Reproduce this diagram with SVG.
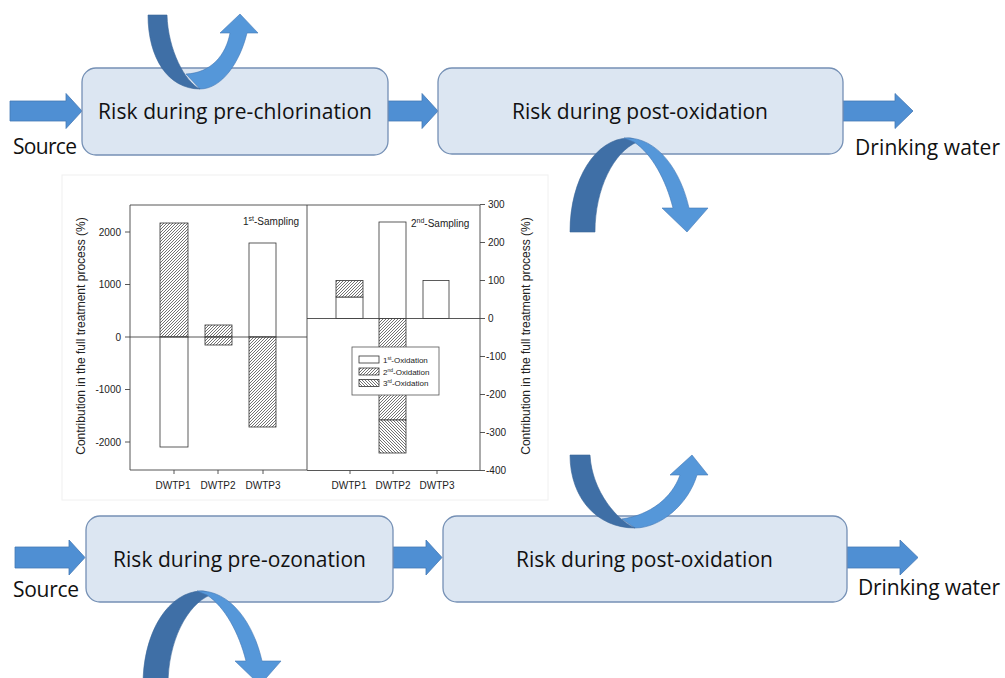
<svg xmlns="http://www.w3.org/2000/svg" width="1005" height="678" viewBox="0 0 1005 678">
<style>
.box{fill:#dce6f2;stroke:#7590b5;stroke-width:1.3}
.big{font-family:"Open Sans","Liberation Sans",sans-serif;font-size:21px;fill:#111}
.arr{fill:#4f8fd3;stroke:#4579b5;stroke-width:0.8}
.dark{fill:#3f6fa6;stroke:#3a6699;stroke-width:0.6}
.light{fill:#5597d9;stroke:#4579b5;stroke-width:0.6}
.ax{stroke:#444;stroke-width:0.9;fill:none}
.bar{stroke:#333;stroke-width:0.8}
.tk{font-family:"Liberation Sans",Arial,sans-serif;font-size:10px;fill:#222}
.lab{font-family:"Liberation Sans",Arial,sans-serif;font-size:12px;fill:#222}
.lg{font-family:"Liberation Sans",Arial,sans-serif;font-size:8px;fill:#222}
</style>
<defs>
<pattern id="h2" patternUnits="userSpaceOnUse" width="3" height="3">
<rect width="3" height="3" fill="#fff"/>
<path d="M-1,1 L1,-1 M0,3 L3,0 M2,4 L4,2" stroke="#444" stroke-width="0.75"/>
</pattern>
<pattern id="h3" patternUnits="userSpaceOnUse" width="3" height="3">
<rect width="3" height="3" fill="#fff"/>
<path d="M-1,2 L1,4 M0,0 L3,3 M2,-1 L4,1" stroke="#444" stroke-width="0.75"/>
</pattern>
</defs>
<rect width="1005" height="678" fill="#fff"/>

<g id="chart">
<rect x="62" y="175" width="486" height="325" fill="#fff" stroke="#f0f0f0" stroke-width="1"/>
<g id="panel1">
<rect x="160" y="223" width="28" height="114" class="bar" fill="url(#h2)"/>
<rect x="160" y="337" width="28" height="110" class="bar" fill="#fff"/>
<rect x="205" y="325" width="27" height="12" class="bar" fill="url(#h2)"/>
<rect x="205" y="337" width="27" height="8" class="bar" fill="url(#h2)"/>
<rect x="249" y="243" width="27" height="94" class="bar" fill="#fff"/>
<rect x="249" y="337" width="27" height="90" class="bar" fill="url(#h2)"/>
<path class="ax" d="M130,205 V470 H307 V205 Z M130,337 H307"/>
<path class="ax" d="M125,232 H130 M125,284.5 H130 M125,337 H130 M125,389.5 H130 M125,442 H130 M174,470 V474 M218,470 V474 M263,470 V474"/>
<g class="tk" text-anchor="end">
<text x="121" y="235.5">2000</text>
<text x="121" y="288">1000</text>
<text x="121" y="340.5">0</text>
<text x="121" y="393">-1000</text>
<text x="121" y="445.5">-2000</text>
</g>
<g class="tk" text-anchor="middle">
<text x="173" y="489">DWTP1</text>
<text x="218" y="489">DWTP2</text>
<text x="263" y="489">DWTP3</text>
</g>
<text class="tk" x="243" y="225">1<tspan dy="-4" font-size="7">st</tspan><tspan dy="4">-Sampling</tspan></text>
<text class="lab" transform="translate(85,336) rotate(-90)" text-anchor="middle">Contribution in the full treatment process (%)</text>
</g>
<g id="panel2">
<rect x="336" y="297" width="27" height="21.5" class="bar" fill="#fff"/>
<rect x="336" y="280.5" width="27" height="16.5" class="bar" fill="url(#h2)"/>
<rect x="379" y="222" width="27" height="96.5" class="bar" fill="#fff"/>
<rect x="379" y="318.5" width="27" height="101.5" class="bar" fill="url(#h2)"/>
<rect x="379" y="420" width="27" height="33" class="bar" fill="url(#h3)"/>
<rect x="423" y="280.5" width="26" height="38" class="bar" fill="#fff"/>
<path class="ax" d="M307,205 H480 V470.5 H307 M307,318.5 H480"/>
<path class="ax" d="M480,204.5 H485 M480,242.5 H485 M480,280.5 H485 M480,318.5 H485 M480,356.5 H485 M480,394.5 H485 M480,432.5 H485 M480,470.5 H485 M350,470.5 V474 M393,470.5 V474 M437,470.5 V474"/>
<g class="tk">
<text x="488" y="208">300</text>
<text x="488" y="246">200</text>
<text x="488" y="284">100</text>
<text x="488" y="322">0</text>
<text x="486" y="360">-100</text>
<text x="486" y="398">-200</text>
<text x="486" y="436">-300</text>
<text x="486" y="474">-400</text>
</g>
<g class="tk" text-anchor="middle">
<text x="349" y="489">DWTP1</text>
<text x="393" y="489">DWTP2</text>
<text x="437" y="489">DWTP3</text>
</g>
<text class="tk" x="411" y="227">2<tspan dy="-4" font-size="7">nd</tspan><tspan dy="4">-Sampling</tspan></text>
<text class="lab" transform="translate(530,336) rotate(-90)" text-anchor="middle">Contribution in the full treatment process (%)</text>
<g id="legend">
<rect x="352" y="347" width="87" height="48" fill="#fff" stroke="#555" stroke-width="0.8"/>
<rect x="359" y="356" width="20" height="7" class="bar" fill="#fff"/>
<rect x="359" y="368" width="20" height="7" class="bar" fill="url(#h2)"/>
<rect x="359" y="379.5" width="20" height="7" class="bar" fill="url(#h3)"/>
<text class="lg" x="383" y="362.5">1<tspan dy="-3" font-size="5">st</tspan><tspan dy="3">-Oxidation</tspan></text>
<text class="lg" x="383" y="374.5">2<tspan dy="-3" font-size="5">nd</tspan><tspan dy="3">-Oxidation</tspan></text>
<text class="lg" x="383" y="386">3<tspan dy="-3" font-size="5">rd</tspan><tspan dy="3">-Oxidation</tspan></text>
</g>
</g>
</g>

<g id="connectors">
<polygon class="arr" points="10,101 66,101 66,93.5 82,111 66,128.5 66,121 10,121"/>
<polygon class="arr" points="388,101 422,101 422,93.5 438,111 422,128.5 422,121 388,121"/>
<polygon class="arr" points="843,101 895,101 895,93.5 913,111 895,128.5 895,121 843,121"/>
<polygon class="arr" points="15,547 69,547 69,540 85,557.5 69,575 69,568 15,568"/>
<polygon class="arr" points="393,547 426,547 426,540 442,557.5 426,575 426,568 393,568"/>
<polygon class="arr" points="847,547 900,547 900,540 918,557.5 900,575 900,568 847,568"/>
</g>

<g id="node-prechlorination">
<rect class="box" x="82" y="68" width="306" height="87" rx="14"/>
<text class="big" x="98" y="119" textLength="274">Risk during pre-chlorination</text>
</g>
<g id="node-postoxidation-1">
<rect class="box" x="438" y="68" width="405" height="86" rx="14"/>
<text class="big" x="512" y="119" textLength="256">Risk during post-oxidation</text>
</g>
<g id="node-preozonation">
<rect class="box" x="86" y="516" width="307" height="86" rx="14"/>
<text class="big" x="113" y="567" textLength="253">Risk during pre-ozonation</text>
</g>
<g id="node-postoxidation-2">
<rect class="box" x="443" y="516" width="404" height="86" rx="14"/>
<text class="big" x="516" y="567" textLength="257">Risk during post-oxidation</text>
</g>

<g id="labels">
<text class="big" x="13" y="154" textLength="64">Source</text>
<text class="big" x="13" y="597" textLength="66">Source</text>
<text class="big" x="855" y="155" textLength="145">Drinking water</text>
<text class="big" x="858" y="595" textLength="142">Drinking water</text>
</g>

<g id="curved-arrows">
<g id="loop-top-left">
<path class="light" d="M200,89 C222,89 240,62 247,33 L258,33 L240,14 L220,33 L230,33 C226,55 211,73 186,74 Z"/>
<path class="dark" d="M148,15 L167,15 C168,50 185,82 200,89 C168,89 148,58 148,15 Z"/>
</g>
<g id="arch-top-right">
<path class="dark" d="M570,232 C570,178 596,139 628,138 C633,138 636,140 637,142 C614,152 595,188 595,232 Z"/>
<path class="light" d="M624,138 C658,136 681,172 689,208 L708,208 L687,232 L662,208 L673,208 C666,180 652,154 634,142 Z"/>
</g>
<g id="loop-bottom-mid">
<path class="light" d="M635,528 C660,528 688,505 697,475 L708,475 L692,455 L670,475 L680,475 C672,498 650,515 622,519 Z"/>
<path class="dark" d="M570,455 L590,455 C592,492 618,521 635,528 C596,528 570,497 570,455 Z"/>
</g>
<g id="arch-bottom-left" transform="translate(-427,453)">
<path class="dark" d="M570,232 C570,178 596,139 628,138 C633,138 636,140 637,142 C614,152 595,188 595,232 Z"/>
<path class="light" d="M624,138 C658,136 681,172 689,208 L708,208 L687,232 L662,208 L673,208 C666,180 652,154 634,142 Z"/>
</g>
</g>
</svg>
